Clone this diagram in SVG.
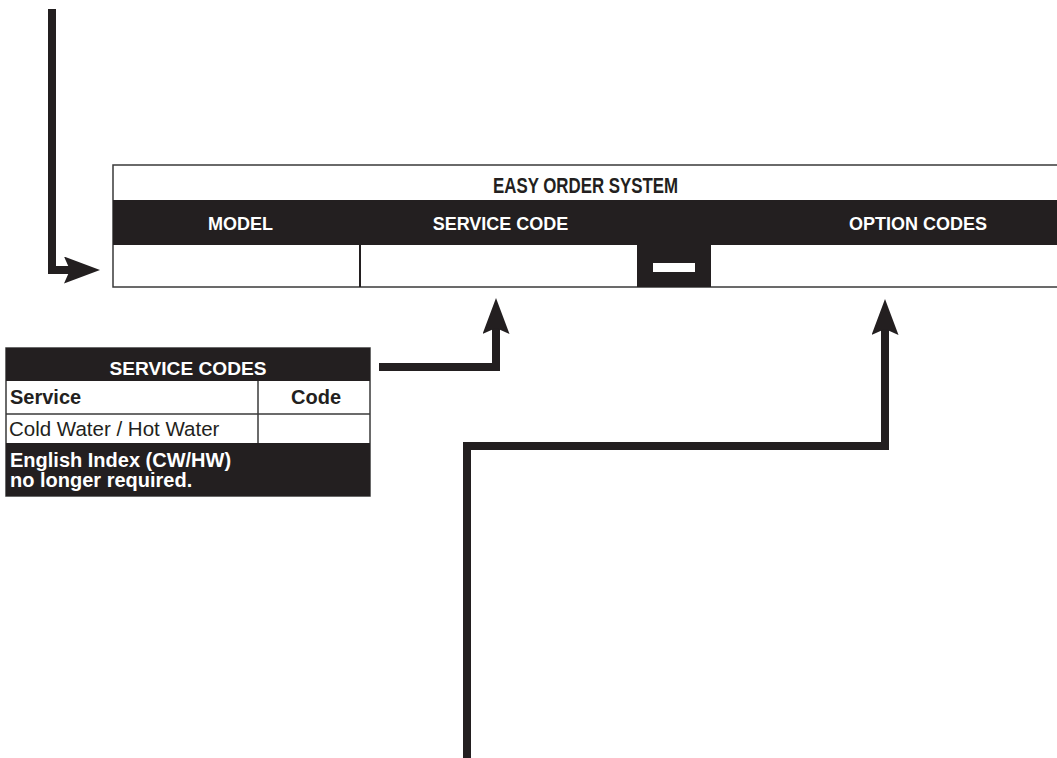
<svg xmlns="http://www.w3.org/2000/svg" width="1057" height="758" viewBox="0 0 1057 758">
<style>
.blk{fill:#231f20}
.frame{fill:none;stroke:#3a3a3a;stroke-width:1.5}
.hd{font-family:"Liberation Sans",Arial,sans-serif;font-weight:bold;fill:#fff}
.tx{font-family:"Liberation Sans",Arial,sans-serif;fill:#231f20}
.conn{fill:none;stroke:#231f20;stroke-width:8;stroke-linejoin:miter}
</style>
<defs>
<marker id="ah" markerUnits="userSpaceOnUse" viewBox="0 0 36 27" markerWidth="36" markerHeight="27" refX="6" refY="13.5" orient="auto">
<path d="M0,0 L36,13.5 L0,27 L6,13.5 Z" fill="#231f20"/>
</marker>
</defs>
<rect width="1057" height="758" fill="#fff"/>
<g id="easy-order-system">
<rect x="113" y="165" width="960" height="122" fill="#fff" class="frame"/>
<rect x="113" y="200" width="944" height="45" class="blk"/>
<text x="585.5" y="193" font-size="22" class="tx" font-weight="bold" text-anchor="middle" textLength="185" lengthAdjust="spacingAndGlyphs">EASY ORDER SYSTEM</text>
<text x="240.5" y="230" font-size="18" class="hd" text-anchor="middle">MODEL</text>
<text x="500.5" y="230" font-size="18" class="hd" text-anchor="middle">SERVICE CODE</text>
<text x="918" y="230" font-size="18" class="hd" text-anchor="middle">OPTION CODES</text>
<line x1="360" y1="245" x2="360" y2="287" stroke="#231f20" stroke-width="2"/>
<rect x="637" y="245" width="74" height="42" class="blk"/>
<rect x="653" y="263" width="42" height="9" fill="#fff"/>
</g>
<g id="service-codes">
<rect x="6" y="348" width="364" height="148" fill="#fff" class="frame"/>
<rect x="6" y="348" width="364" height="33" class="blk"/>
<rect x="6" y="443" width="364" height="53" class="blk"/>
<line x1="6" y1="414" x2="370" y2="414" class="frame"/>
<line x1="258" y1="381" x2="258" y2="443" class="frame"/>
<text x="188" y="375" font-size="18.5" class="hd" text-anchor="middle" textLength="157" lengthAdjust="spacingAndGlyphs">SERVICE CODES</text>
<text x="10" y="404" font-size="20" class="tx" font-weight="bold">Service</text>
<text x="341" y="404" font-size="20" class="tx" font-weight="bold" text-anchor="end">Code</text>
<text x="9" y="436" font-size="20.5" class="tx">Cold Water / Hot Water</text>
<text x="10" y="467" font-size="20" class="hd">English Index (CW/HW)</text>
<text x="10" y="487" font-size="20" class="hd">no longer required.</text>
</g>
<g id="connectors">
<path class="conn" d="M52,9 V270 H70" marker-end="url(#ah)"/>
<path class="conn" d="M379,367 H496 V328" marker-end="url(#ah)"/>
<path class="conn" d="M467,758 V446 H885 V329" marker-end="url(#ah)"/>
</g>
</svg>
